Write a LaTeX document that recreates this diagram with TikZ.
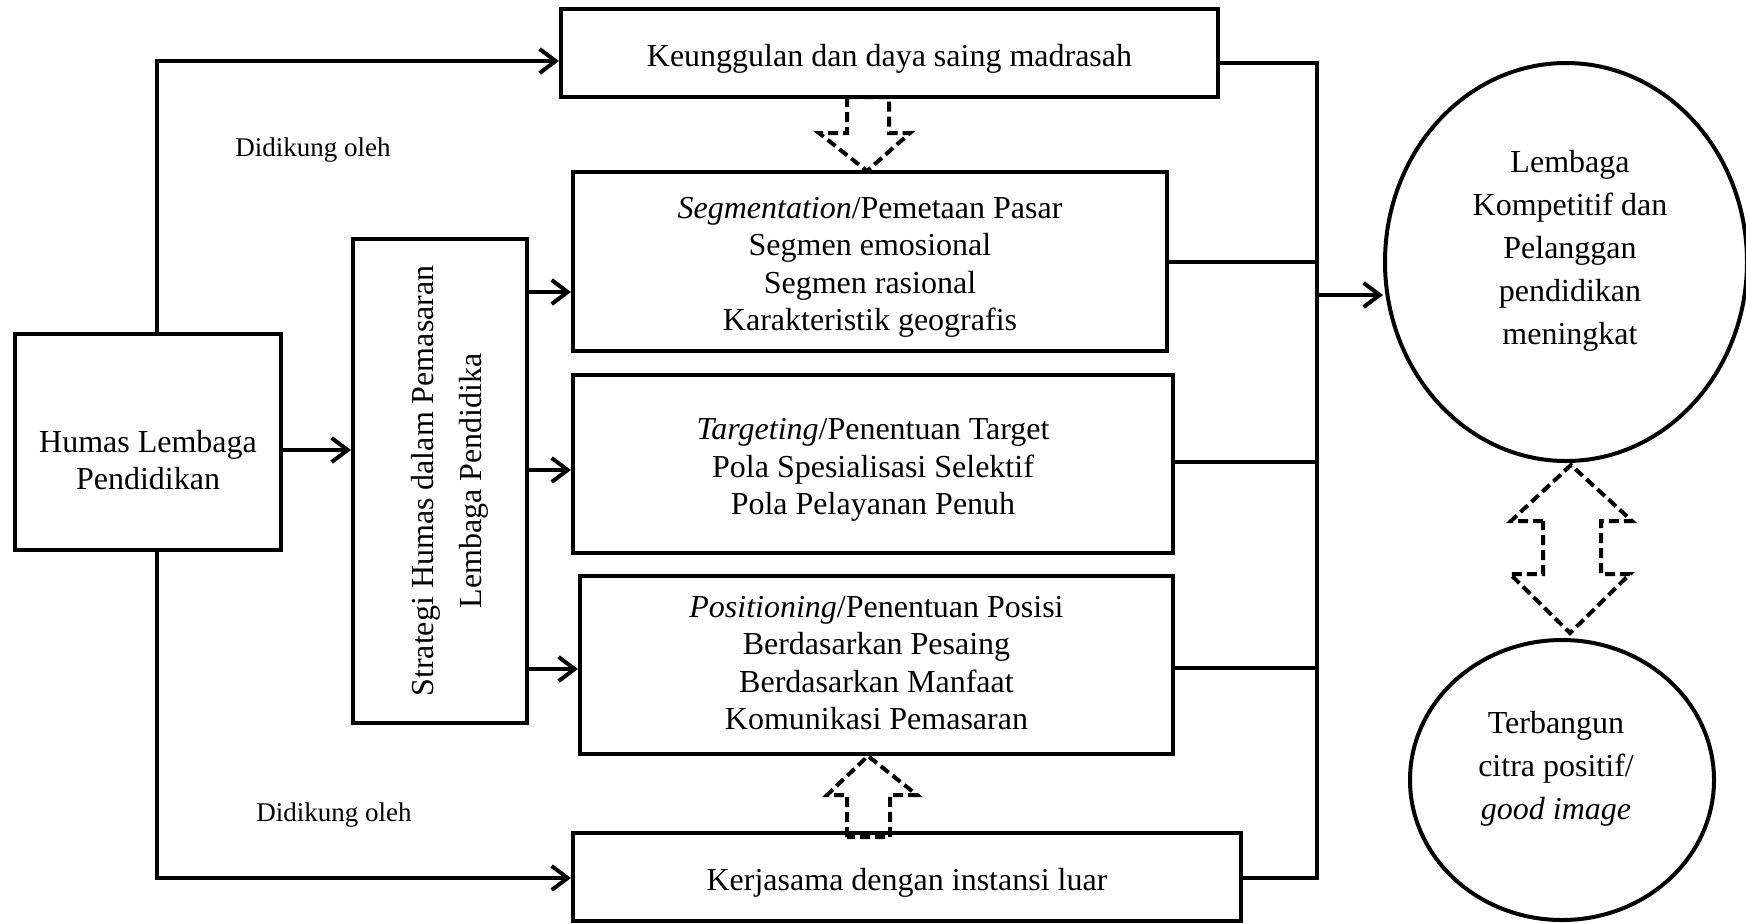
\documentclass[tikz,border=0pt]{standalone}
\usepackage{fontspec}
\setmainfont{Liberation Serif}
\usetikzlibrary{arrows.meta,shapes.geometric}
\begin{document}
\begin{tikzpicture}[x=0.5pt,y=-0.5pt,
  box/.style={draw,line width=2pt,inner sep=0pt},
  txt/.style={align=center,font=\fontsize{16}{18.7}\selectfont,yshift=-3pt},
  oval/.style={draw,ellipse,line width=2pt,inner sep=0pt},
  ovaltxt/.style={align=center,font=\fontsize{16}{21.5}\selectfont},
  conn/.style={line width=2pt},
  arr/.style={conn,-{Straight Barb[length=8pt,width=12pt]}},
  blockarrow/.style={line width=2pt,dash pattern=on 5pt off 2.5pt},
  lbl/.style={font=\fontsize{13.5}{15}\selectfont}
]
\useasboundingbox (0,0) rectangle (1746,923);

% boxes
\node[box,minimum width=328.5pt,minimum height=44pt,
  label={[txt]center:{Keunggulan dan daya saing madrasah}}] (top) at (889.5,53) {};
\node[box,minimum width=133pt,minimum height=108pt,
  label={[txt,yshift=-6pt]center:{Humas Lembaga\\Pendidikan}}] (humas) at (148,442) {};
\node[box,minimum width=87pt,minimum height=242pt,
  label={[xshift=5pt,rotate=90,align=center,font=\fontsize{16}{24}\selectfont]center:{Strategi Humas dalam Pemasaran\\Lembaga Pendidika}}] (strat) at (440,481) {};
\node[box,minimum width=297pt,minimum height=89.5pt,
  label={[txt]center:{\textit{Segmentation}/Pemetaan Pasar\\Segmen emosional\\Segmen rasional\\Karakteristik geografis}}] (seg) at (870,261.5) {};
\node[box,minimum width=300pt,minimum height=89pt,
  label={[txt]center:{\textit{Targeting}/Penentuan Target\\Pola Spesialisasi Selektif\\Pola Pelayanan Penuh}}] (targ) at (873,464) {};
\node[box,minimum width=296.5pt,minimum height=89pt,
  label={[txt,yshift=4pt]center:{\textit{Positioning}/Penentuan Posisi\\Berdasarkan Pesaing\\Berdasarkan Manfaat\\Komunikasi Pemasaran}}] (pos) at (876.5,665) {};
\node[box,minimum width=334pt,minimum height=44pt,
  label={[txt]center:{Kerjasama dengan instansi luar}}] (kerja) at (907,877) {};

% ellipses
\node[oval,minimum width=181pt,minimum height=199pt,
  label={[ovaltxt,yshift=5.5pt,xshift=2pt]center:{Lembaga\\Kompetitif dan\\Pelanggan\\pendidikan\\meningkat}}] (lemb) at (1566,262) {};
\node[oval,minimum width=152pt,minimum height=140pt,
  label={[ovaltxt,yshift=5.5pt,xshift=-3pt]center:{Terbangun\\citra positif/\\\textit{good image}}}] (citra) at (1562,780) {};

% labels
\node[lbl] (d1) at (313,150) {Didikung oleh};
\node[lbl] (d2) at (334,815) {Didikung oleh};

% helper coordinates
\coordinate (lx1) at (157,61);
\coordinate (lx2) at (157,878);
\coordinate (rx1) at (1317,63);
\coordinate (rx2) at (1317,878);
\coordinate (y450) at (0,450);
\coordinate (y292) at (0,292);
\coordinate (y470) at (0,470);
\coordinate (y669) at (0,669);
\coordinate (y262) at (0,262);
\coordinate (y462) at (0,462);
\coordinate (y668) at (0,668);
\coordinate (y295) at (0,295);

% connectors
\draw[arr] (humas.north -| lx1) -- (lx1) -- (top.west |- lx1);
\draw[arr] (humas.south -| lx2) -- (lx2) -- (kerja.west |- lx2);
\draw[conn] (top.east |- rx1) -- (rx1) -- (rx2) -- (kerja.east |- rx2);
\draw[arr] (humas.east |- y450) -- (strat.west |- y450);
\draw[arr] (strat.east |- y292) -- (seg.west |- y292);
\draw[arr] (strat.east |- y470) -- (targ.west |- y470);
\draw[arr] (strat.east |- y669) -- (pos.west |- y669);
\draw[conn] (seg.east |- y262) -- (rx1 |- y262);
\draw[conn] (targ.east |- y462) -- (rx1 |- y462);
\draw[conn] (pos.east |- y668) -- (rx1 |- y668);
\draw[arr] (rx1 |- y295) -- (lemb.west |- y295);

% dashed block arrows
\draw[blockarrow] (847,97) -- (847,133) -- (819,133) -- (867,171) -- (910,133) -- (889,133) -- (889,97) -- cycle;
\draw[blockarrow] (847,837) -- (847,795) -- (827,795) -- (868,756) -- (917,795) -- (890,795) -- (890,837) -- cycle;
\draw[blockarrow] (1543,521) -- (1511,521) -- (1571,465) -- (1632,521) -- (1601,521) -- (1601,574) -- (1630,574) -- (1570,633) -- (1510,574) -- (1543,574) -- cycle;
\end{tikzpicture}
\end{document}
